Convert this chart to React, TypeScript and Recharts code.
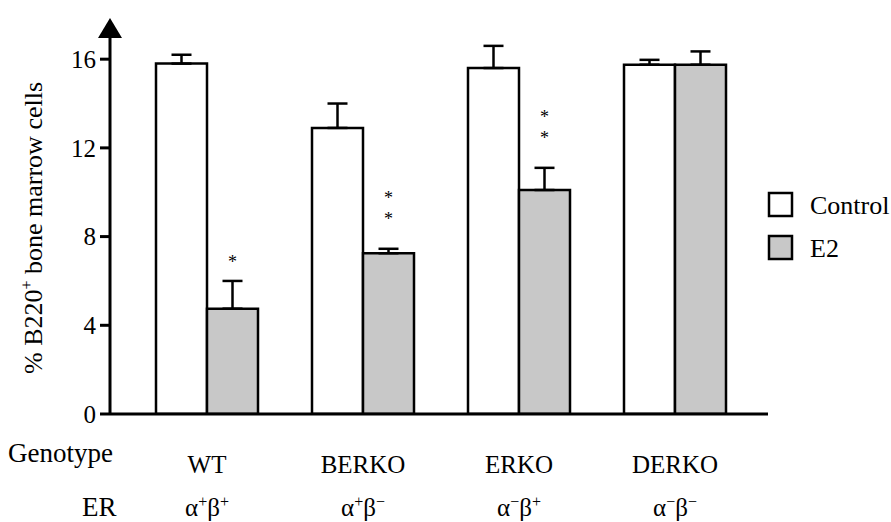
import React from 'react';
import { BarChart, Bar, XAxis, YAxis, ErrorBar, LabelList, Legend, Customized } from 'recharts';

const categories = ['WT', 'BERKO', 'ERKO', 'DERKO'];
const erAlpha = ['+', '+', '−', '−'];
const erBeta = ['+', '−', '+', '−'];
const controlValues = [15.8, 12.9, 15.6, 15.75];
const controlErrors = [0.4, 1.1, 1.0, 0.22];
const e2Values = [4.75, 7.25, 10.1, 15.75];
const e2Errors = [1.25, 0.2, 1.0, 0.6];
const e2Stars = ['*', '**', '**', ''];
const yTicks = [0, 4, 8, 12, 16];

const FONT = "'Liberation Serif', 'Times New Roman', Times, 'DejaVu Serif', 'Noto Serif', serif";
const serif = { fontFamily: FONT };
const W = 891;
const H = 522;
const PLOT_LEFT = 110;
const PLOT_TOP = 37;

const data = categories.map((name, i) => ({
  name,
  control: controlValues[i],
  controlErr: [0, controlErrors[i]],
  e2: e2Values[i],
  e2Err: [0, e2Errors[i]],
  stars: e2Stars[i],
}));

const GenotypeTick = (props: any) => {
  const { x, y, payload, index } = props;
  return (
    <g style={serif} fill="#000">
      <text x={x} y={y + 59} textAnchor="middle" fontSize={25} style={serif}>{payload.value}</text>
      <text x={x} y={y + 102} textAnchor="middle" fontSize={25} style={serif}>
        α<tspan dy={-9} fontSize={16}>{erAlpha[index]}</tspan>
        <tspan dy={9}>β</tspan>
        <tspan dy={-9} fontSize={16}>{erBeta[index]}</tspan>
      </text>
    </g>
  );
};

// asterisks stacked above the E2 error caps
const StarLabel = (props: any) => {
  const { x, y, width, height, value, index } = props;
  if (!value) return null;
  const perUnit = height / e2Values[index];
  const capY = y - e2Errors[index] * perUnit;
  const cx = x + width / 2;
  const stars = value.split('');
  const step = 21;
  const top = stars.length > 1 ? capY - 24 - (stars.length - 1) * step : capY - 13;
  return (
    <text x={cx} y={top} textAnchor="middle" fontSize={18} fill="#000" style={serif}>
      {stars.map((s: string, k: number) => (
        <tspan key={k} x={cx} dy={k === 0 ? 0 : step}>{s}</tspan>
      ))}
    </text>
  );
};

const LegendBox = () => (
  <svg width={131} height={80}>
    <rect x={9} y={9} width={23} height={23} fill="#fff" stroke="#000" strokeWidth={2.5} />
    <rect x={9} y={52} width={23} height={23} fill="#c8c8c8" stroke="#000" strokeWidth={2.5} />
    <text x={50} y={30} fontSize={26} fill="#000" style={serif}>Control</text>
    <text x={50} y={73} fontSize={26} fill="#000" style={serif}>E2</text>
  </svg>
);

const Extras = () => (
  <g fill="#000">
    <polygon points={`${PLOT_LEFT - 12},${PLOT_TOP + 1} ${PLOT_LEFT + 12},${PLOT_TOP + 1} ${PLOT_LEFT},${PLOT_TOP - 19}`} fill="#000" />
    <text x={8} y={462} fontSize={27} style={serif}>Genotype</text>
    <text x={82} y={516} fontSize={27} style={serif}>ER</text>
    <text transform="translate(42, 228) rotate(-90)" textAnchor="middle" fontSize={26} style={serif}>
      % B220<tspan dy={-10} fontSize={16}>+</tspan><tspan dy={10}> bone marrow cells</tspan>
    </text>
  </g>
);

export default function App() {
  return (
    <div style={{ position: 'absolute', left: 0, top: 0, background: '#fff' }}>
      <BarChart
        width={W}
        height={H}
        data={data}
        margin={{ top: PLOT_TOP, right: 123, bottom: 8, left: 50 }}
        barCategoryGap={27}
        barGap={0}
      >
        <XAxis
          dataKey="name"
          height={100}
          padding={{ left: 19, right: 15 }}
          axisLine={{ stroke: '#000', strokeWidth: 3 }}
          tickLine={false}
          tickSize={0}
          tickMargin={0}
          tick={<GenotypeTick />}
          interval={0}
        />
        <YAxis
          width={60}
          domain={[0, 17]}
          ticks={yTicks}
          allowDataOverflow
          axisLine={{ stroke: '#000', strokeWidth: 3 }}
          tickLine={{ stroke: '#000', strokeWidth: 3 }}
          tickSize={10}
          tickMargin={4}
          tick={{ fill: '#000', fontSize: 25, style: serif }}
        />
        <Bar dataKey="control" name="Control" fill="#fff" stroke="#000" strokeWidth={2.5} isAnimationActive={false}>
          <ErrorBar dataKey="controlErr" width={10} stroke="#000" strokeWidth={2.5} direction="y" />
        </Bar>
        <Bar dataKey="e2" name="E2" fill="#c8c8c8" stroke="#000" strokeWidth={2.5} isAnimationActive={false}>
          <ErrorBar dataKey="e2Err" width={10} stroke="#000" strokeWidth={2.5} direction="y" />
          <LabelList dataKey="stars" content={<StarLabel />} />
        </Bar>
        <Legend
          layout="horizontal"
          verticalAlign="middle"
          align="center"
          content={<LegendBox />}
          wrapperStyle={{ left: 760, top: 184, width: 131, height: 80 }}
        />
        <Customized component={<Extras />} />
      </BarChart>
    </div>
  );
}
